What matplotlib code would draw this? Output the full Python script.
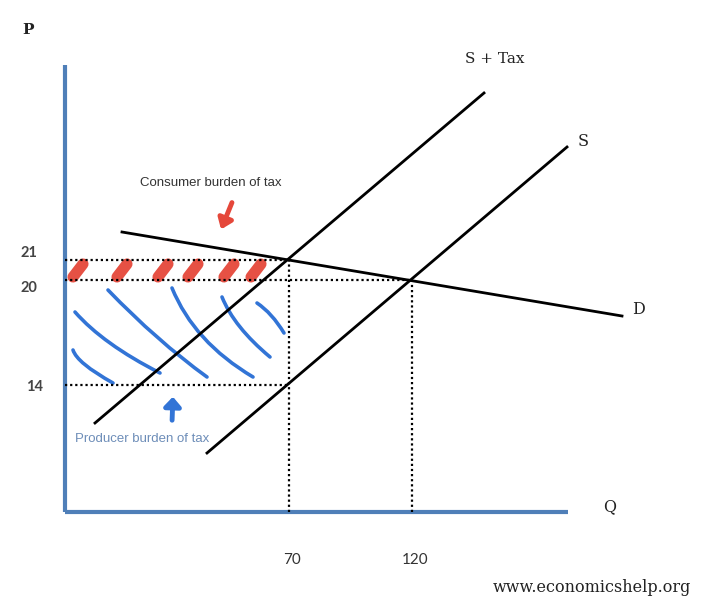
import matplotlib
matplotlib.use("Agg")
from matplotlib import pyplot as plt
from matplotlib.path import Path
from matplotlib.patches import PathPatch

# diagram units: origin at the axes corner
supply_tax = [(30, 89), (419, 419)]
supply = [(142, 59), (502, 365)]
demand = [(57, 280), (557, 196)]

q_pos = [224, 347]
q_labels = ["70", "120"]
p_pos = [252, 232, 127]
p_labels = ["21", "20", "14"]
p_label_y = [259, 224, 125]
p_label_x = [-36, -36, -30]

red_marks = [13, 57, 98, 128, 164, 191]

blue_strokes = [
    [(8, 162), (12, 149), (48, 129)],
    [(10, 200), (38, 168), (95, 139)],
    [(43, 222), (92, 171), (142, 135)],
    [(107, 224), (129, 170), (188, 135)],
    [(157, 215), (169, 185), (205, 155)],
    [(192, 209), (207, 199), (219, 179)],
]

axis_blue = "#4f7fb8"
red = "#e5473a"
blue = "#3274d6"

fig = plt.figure(figsize=(7.2, 6.11), dpi=100)
ax = fig.add_axes([0, 0, 1, 1])
ax.set_xlim(-65, 655)
ax.set_ylim(-99, 512)
ax.axis("off")

# axes
ax.plot([0, 0], [0, 447], color=axis_blue, lw=3, solid_capstyle="butt")
ax.plot([0, 503], [0, 0], color=axis_blue, lw=3, solid_capstyle="butt")

# red consumer burden marks
for x in red_marks:
    ax.plot([x - 5, x + 5], [235, 248], color=red, lw=8, solid_capstyle="round", alpha=0.95)

# blue producer burden strokes
for pts in blue_strokes:
    path = Path(pts, [Path.MOVETO, Path.CURVE3, Path.CURVE3])
    ax.add_patch(PathPatch(path, fc="none", ec=blue, lw=2.6, capstyle="round"))

# dotted guides
dot = (0, (1, 1.3))
ax.plot([0, q_pos[0]], [p_pos[0]] * 2, color="black", lw=1.6, ls=dot)
ax.plot([0, q_pos[1]], [p_pos[1]] * 2, color="black", lw=1.6, ls=dot)
ax.plot([0, q_pos[0]], [p_pos[2]] * 2, color="black", lw=1.6, ls=dot)
ax.plot([q_pos[0]] * 2, [0, p_pos[0]], color="black", lw=1.6, ls=dot)
ax.plot([q_pos[1]] * 2, [0, p_pos[1]], color="black", lw=1.6, ls=dot)

# curves
for line in [supply_tax, supply, demand]:
    ax.plot([line[0][0], line[1][0]], [line[0][1], line[1][1]], color="black", lw=2)

# arrows
ax.annotate("", xy=(155, 280), xytext=(168, 312),
            arrowprops=dict(arrowstyle="-|>,head_length=0.6,head_width=0.45", color=red, lw=3.5))
ax.annotate("", xy=(108, 118), xytext=(107, 89),
            arrowprops=dict(arrowstyle="-|>,head_length=0.55,head_width=0.5", color=blue, lw=3.5))

serif = "DejaVu Serif"
txt = "#222222"
ax.text(-37, 482, "P", fontsize=11, family=serif, fontweight="bold", color=txt, ha="center", va="center")
ax.text(545, 5, "Q", fontsize=11.5, family=serif, color=txt, ha="center", va="center")
ax.text(430, 453, "S + Tax", fontsize=11, family=serif, color=txt, ha="center", va="center")
ax.text(518, 370, "S", fontsize=11.5, family=serif, color=txt, ha="center", va="center")
ax.text(573, 202, "D", fontsize=11.5, family=serif, color=txt, ha="center", va="center")
ax.text(527, -76, "www.economicshelp.org", fontsize=11.5, family=serif, color=txt, ha="center", va="center")

for y, x, lab in zip(p_label_y, p_label_x, p_labels):
    ax.text(x, y, lab, fontsize=10.5, family="Lato", fontweight="bold", color="#444444",
            ha="center", va="center")
for x, lab in zip(q_pos, q_labels):
    ax.text(x + 3, -48, lab, fontsize=11, family="Lato", color="#333333", ha="center", va="center")

ax.text(75, 329, "Consumer burden of tax", fontsize=9.5, family="Liberation Sans",
        color="#333333", ha="left", va="center")
ax.text(10, 73, "Producer burden of tax", fontsize=9.5, family="Liberation Sans",
        color="#6d8db8", ha="left", va="center")

fig.savefig("out.png", dpi=100)
